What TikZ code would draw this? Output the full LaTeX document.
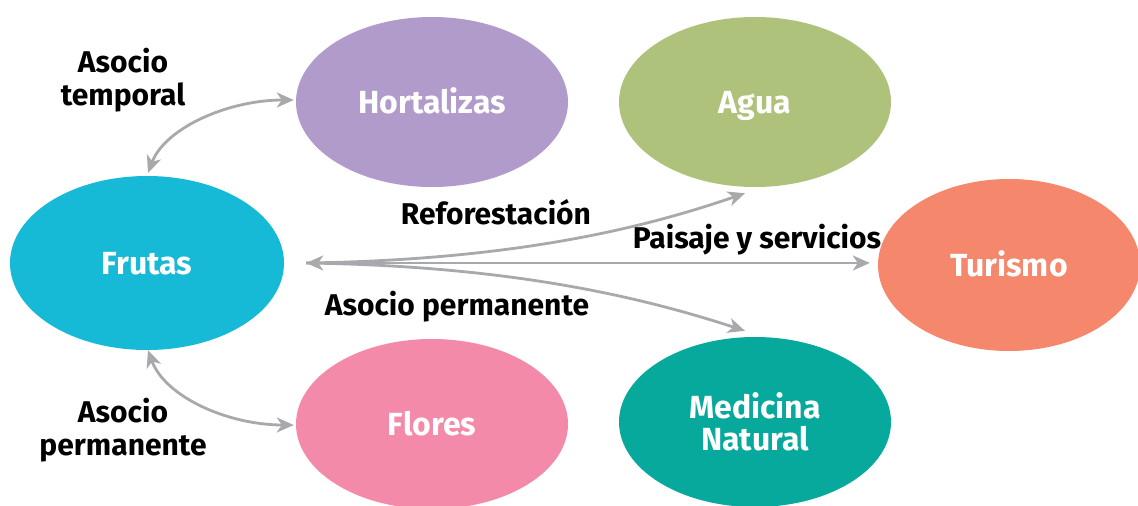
\documentclass[tikz,border=0pt]{standalone}
\usepackage{fontspec}
\setmainfont{Fira Sans}
\usetikzlibrary{shapes.geometric,arrows.meta,calc}
\definecolor{cfrutas}{HTML}{17BAD6}
\definecolor{chort}{HTML}{B19BCB}
\definecolor{cagua}{HTML}{AEC27C}
\definecolor{ctur}{HTML}{F5886C}
\definecolor{cflores}{HTML}{F48AA9}
\definecolor{cmed}{HTML}{07A99C}
\definecolor{carrow}{HTML}{A7A9AC}
\begin{document}
\begin{tikzpicture}[x=1pt,y=-1pt,
  blob/.style={ellipse,draw=none,minimum width=272pt,minimum height=170pt,inner sep=0pt,
    text=white,font=\fontsize{32}{32}\selectfont\bfseries,align=center},
  one/.style={text height=22pt,text depth=0pt},
  lbl/.style={font=\fontsize{30}{33}\selectfont\bfseries,align=center,inner sep=0pt},
  conn/.style={draw=carrow,line width=2.8pt,{Stealth[length=17pt,width=15pt,inset=5pt]}-{Stealth[length=17pt,width=15pt,inset=5pt]}},
  connone/.style={draw=carrow,line width=2.8pt,-{Stealth[length=17pt,width=15pt,inset=5pt]}}]
\useasboundingbox (0,0) rectangle (1138,506);
\fill[white] (0,0) rectangle (1138,506);
\node[blob,one,fill=cfrutas,minimum width=274pt,minimum height=174pt] (frutas) at (147,263) {Frutas};
\node[blob,one,fill=chort] (hort) at (432,102) {Hortalizas};
\node[blob,one,fill=cagua] (agua) at (755,102) {Agua};
\node[blob,one,fill=ctur,minimum width=262pt,minimum height=172pt] (tur) at (1009,265) {Turismo};
\node[blob,one,fill=cflores] (flores) at (432,424) {Flores};
\node[blob,fill=cmed] (med) at (755,422) {Medicina\\Natural};
\coordinate (hub) at ($(frutas.east)+(22,0)$);
\coordinate (aguain) at ($(agua.south)+(-10,6)$);
\coordinate (medin) at ($(med.north)+(-10,-6)$);
\coordinate (turin) at ($(tur.west)+(-8,-2)$);
\coordinate (frtop) at ($(frutas.north)+(1,-3)$);
\coordinate (frbot) at ($(frutas.south)+(1,0)$);
\coordinate (hortin) at ($(hort.west)+(-2,-2)$);
\coordinate (florin) at ($(flores.west)+(-2,1)$);
\draw[conn] (frtop) .. controls (165,128) and (228,100) .. (hortin);
\draw[conn] (frbot) .. controls (165,397) and (228,425) .. (florin);
\draw[connone] (hub) .. controls (520,260) and (650,226) .. (aguain);
\draw[connone] (hub) -- (turin);
\draw[connone] (hub) .. controls (520,266) and (650,300) .. (medin);
\draw[connone] ($(hub)+(14,0)$) -- (hub);
\node[lbl] (l1) at (123,80) {Asocio\\temporal};
\node[lbl] (l2) at (123,430) {Asocio\\permanente};
\node[lbl] (l3) at (496,212) {Reforestación};
\node[lbl] (l4) at (757,240) {Paisaje y servicios};
\node[lbl] (l5) at (457,307) {Asocio permanente};
\end{tikzpicture}
\end{document}
